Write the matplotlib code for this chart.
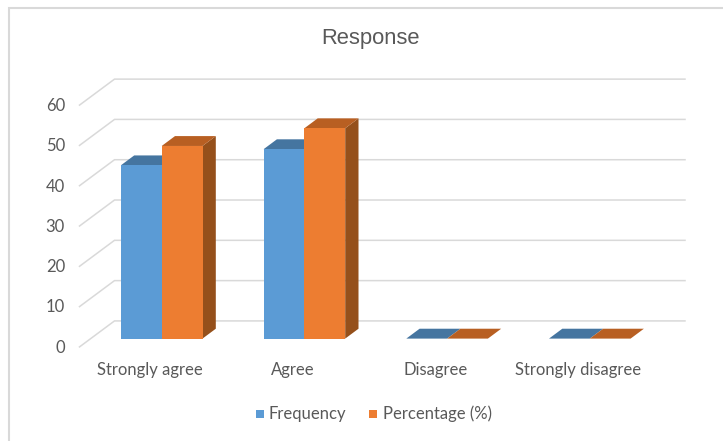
import matplotlib

matplotlib.use("Agg")
import matplotlib.pyplot as plt
from matplotlib.patches import Polygon, Rectangle

categories = ["Strongly agree", "Agree", "Disagree", "Strongly disagree"]
frequency = [43, 47, 0, 0]
percentage = [47.8, 52.2, 0, 0]
valueTicks = [0, 10, 20, 30, 40, 50, 60]

figWidth = 723
figHeight = 441
categoryPx = 142.7
unitPx = 4.03
originX = 161.7
originY = 338.6
barWidth = 40.8 / categoryPx
depthDx = 35.0 / categoryPx
depthDy = 26.0 / unitPx
barFront = 0.32
barBack = 0.70
gridColor = "#d9d9d9"
textColor = "#595959"

plt.rcParams["font.family"] = ["Lato", "DejaVu Sans"]


# Shifts a point on the front plane to a given depth on the floor.
def project(x, value, depth):
    shiftedX = x + (depth - barFront) * depthDx
    shiftedY = value + (depth - barFront) * depthDy
    return shiftedX, shiftedY


# Draws one box with its front, top and right faces.
def drawBar(ax, left, value, frontColor, topColor, sideColor, zorder):
    right = left + barWidth
    front = [
        project(left, 0, barFront),
        project(right, 0, barFront),
        project(right, value, barFront),
        project(left, value, barFront),
    ]
    top = [
        project(left, value, barFront),
        project(right, value, barFront),
        project(right, value, barBack),
        project(left, value, barBack),
    ]
    side = [
        project(right, 0, barFront),
        project(right, 0, barBack),
        project(right, value, barBack),
        project(right, value, barFront),
    ]
    ax.add_patch(Polygon(side, closed=True, color=sideColor, lw=0, zorder=zorder))
    ax.add_patch(Polygon(top, closed=True, color=topColor, lw=0, zorder=zorder))
    ax.add_patch(Polygon(front, closed=True, color=frontColor, lw=0, zorder=zorder + 0.1))


fig = plt.figure(figsize=(figWidth / 100, figHeight / 100), dpi=100)
ax = fig.add_axes([0, 0, 1, 1])
ax.set_xlim(-originX / categoryPx, (figWidth - originX) / categoryPx)
ax.set_ylim((originY - figHeight) / unitPx, originY / unitPx)
ax.axis("off")

# Chart frame: only the left and top edges show.
frameX = 8.5
frameY = 8.0
ax.plot(
    [(frameX - originX) / categoryPx, (frameX - originX) / categoryPx, (723 - originX) / categoryPx],
    [(originY - 441) / unitPx, (originY - frameY) / unitPx, (originY - frameY) / unitPx],
    color=gridColor,
    linewidth=1.5,
    solid_joinstyle="miter",
)

# Side wall and back wall gridlines.
rightEnd = (685 - originX) / categoryPx
wallLeft = (79.5 - originX) / categoryPx + barFront * depthDx
for tick in valueTicks:
    frontLeft = project(wallLeft, tick, 0.0)
    backLeft = project(wallLeft, tick, 1.0)
    ax.plot(
        [frontLeft[0], backLeft[0], rightEnd],
        [frontLeft[1], backLeft[1], backLeft[1]],
        color=gridColor,
        linewidth=1.1,
        solid_joinstyle="miter",
        zorder=1,
    )
    ax.text(
        frontLeft[0] - 14.5 / categoryPx,
        frontLeft[1] - 0.8 / unitPx,
        str(tick),
        ha="right",
        va="center",
        fontsize=12,
        color=textColor,
    )

# Drawn left to right so each group overlaps cleanly.
for index, name in enumerate(categories):
    drawBar(ax, index - barWidth, frequency[index], "#5b9bd5", "#4575a0", "#3f6f9b", 3)
    drawBar(ax, index, percentage[index], "#ed7d31", "#b85f22", "#95501b", 4)
    ax.text(
        index - 0.08,
        (originY - 370.5) / unitPx,
        name,
        ha="center",
        va="center",
        fontsize=12,
        color=textColor,
    )

# Legend swatches and labels.
legendY = (originY - 414.2) / unitPx
swatchY = (originY - 413.5) / unitPx
swatchSize = 8.0
for swatchPx, labelPx, color, label in [
    (255.5, 268, "#5b9bd5", "Frequency"),
    (368.5, 383, "#ed7d31", "Percentage (%)"),
]:
    ax.add_patch(
        Rectangle(
            ((swatchPx - originX) / categoryPx, swatchY - swatchSize / 2 / unitPx),
            swatchSize / categoryPx,
            swatchSize / unitPx,
            color=color,
            lw=0,
        )
    )
    ax.text(
        (labelPx - originX) / categoryPx,
        legendY,
        label,
        ha="left",
        va="center",
        fontsize=12,
        color=textColor,
    )

ax.text(
    (370.5 - originX) / categoryPx,
    (originY - 38.5) / unitPx,
    "Response",
    ha="center",
    va="center",
    fontsize=15.8,
    family="Liberation Sans",
    color=textColor,
)

fig.savefig("out.png", dpi=100)
plt.close(fig)
